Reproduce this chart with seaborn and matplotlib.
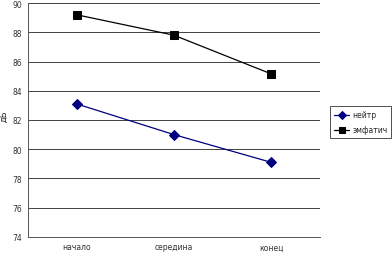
import pandas as pd
import matplotlib
matplotlib.use('Agg')
import matplotlib.pyplot as plt
import seaborn as sns

positions = ['начало', 'середина', 'конец']
neutral = [83.1, 81.0, 79.1]
emphatic = [89.2, 87.8, 85.15]
series_names = ['нейтр', 'эмфатич']

df = pd.DataFrame({
    'pos': list(range(3)) * 2,
    'val': neutral + emphatic,
    'series': [series_names[0]] * 3 + [series_names[1]] * 3,
})

sns.set_style('white')
plt.rcParams['font.family'] = ['DejaVu Sans']

fig = plt.figure(figsize=(3.92, 2.55), dpi=100)
ax = fig.add_axes([0.0714, 0.067, 0.745, 0.917])

sns.lineplot(data=df, x='pos', y='val', hue='series', style='series',
             palette={'нейтр': '#000080', 'эмфатич': 'black'},
             markers={'нейтр': 'D', 'эмфатич': 's'},
             dashes=False, markersize=5.5, linewidth=0.9,
             markeredgecolor=None, ax=ax)

ax.set_xlim(-0.5, 2.5)
ax.set_ylim(74, 90)
ax.set_yticks(range(74, 91, 2))
ax.set_xticks(range(3))
ax.set_xticklabels(positions)
ax.tick_params(labelsize=5.5, length=2, colors='#333333')
ax.tick_params(axis='x', pad=4)
ax.tick_params(axis='y', pad=2)
ax.grid(axis='y', color='#222222', linewidth=0.6)
ax.set_axisbelow(True)
ax.set_xlabel('')
ax.set_ylabel('дБ', fontsize=6, labelpad=0)
ax.yaxis.set_label_coords(-0.068, 0.52)

for s in ['top', 'right']:
    ax.spines[s].set_visible(False)
ax.spines['left'].set_color('#555555')
ax.spines['bottom'].set_color('#555555')
ax.spines['left'].set_linewidth(0.7)
ax.spines['bottom'].set_linewidth(0.7)

# minor ticks between categories on the x axis
ax.set_xticks([-0.5, 0.5, 1.5, 2.5], minor=True)
ax.tick_params(axis='x', which='minor', length=3)
ax.tick_params(axis='x', which='major', length=0)
ax.axvline(2.5, color='#999999', linewidth=0.7)

leg = ax.legend(loc='center left', bbox_to_anchor=(1.035, 0.49), fontsize=5.5,
                frameon=True, fancybox=False, edgecolor='black',
                handlelength=2.0, handletextpad=0.4, borderpad=0.5,
                labelspacing=0.8, borderaxespad=0, markerscale=0.8)
leg.get_frame().set_linewidth(0.6)

fig.savefig('out.png', dpi=100)
